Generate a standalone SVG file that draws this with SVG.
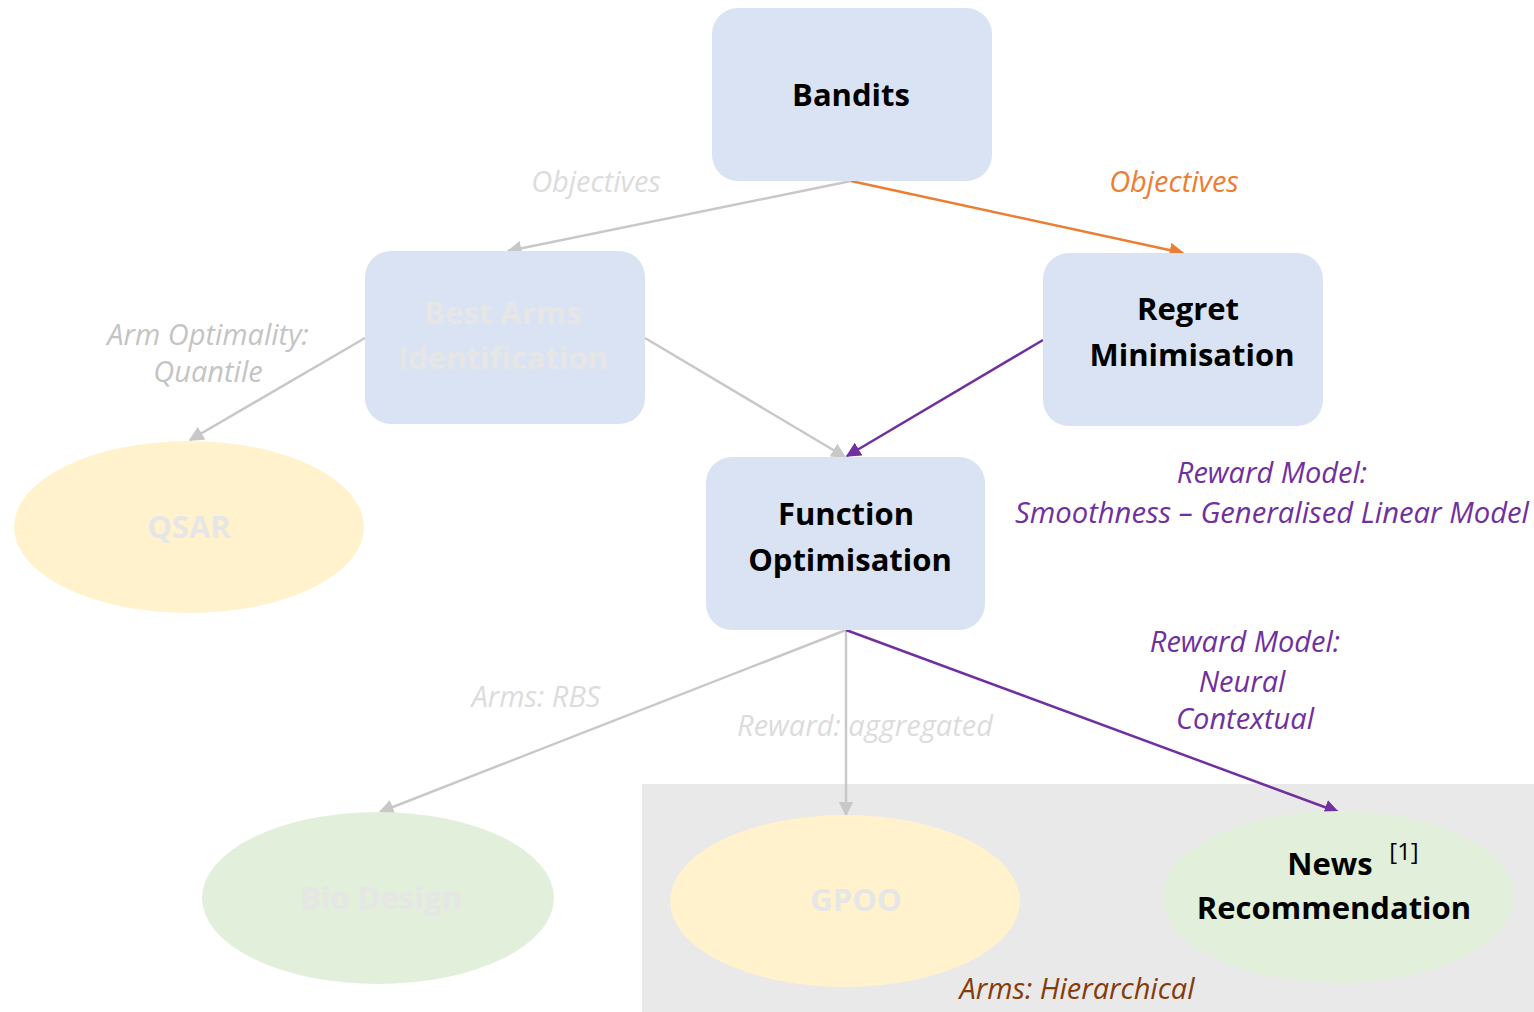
<svg xmlns="http://www.w3.org/2000/svg" width="1534" height="1012" viewBox="0 0 1534 1012">
<defs>
<style>
.box{fill:#dae3f3}
.yel{fill:#fff2cc}
.grn{fill:#e2efda}
.t{font-family:"Open Sans","Liberation Sans",sans-serif;text-anchor:middle}
.nb{font-size:31px;font-weight:bold;fill:#000}
.nf{font-size:31px;font-weight:bold;fill:#e6e6e6}
.lb{font-size:29px;font-style:italic}
.e{fill:none;stroke-width:2.5}
</style>
<marker id="ag" viewBox="0 0 10 10" refX="9" refY="5" markerWidth="6" markerHeight="6" markerUnits="strokeWidth" orient="auto"><path d="M0,0 L10,5 L0,10 z" fill="#c8c8c8"/></marker>
<marker id="ao" viewBox="0 0 10 10" refX="9" refY="5" markerWidth="6" markerHeight="6" markerUnits="strokeWidth" orient="auto"><path d="M0,0 L10,5 L0,10 z" fill="#ed7d31"/></marker>
<marker id="ap" viewBox="0 0 10 10" refX="9" refY="5" markerWidth="6" markerHeight="6" markerUnits="strokeWidth" orient="auto"><path d="M0,0 L10,5 L0,10 z" fill="#7030a0"/></marker>
</defs>
<rect x="0" y="0" width="1534" height="1012" fill="#fff"/>
<rect x="642" y="784" width="892" height="228" fill="#e9e9e9"/>

<g id="connectors">
<line class="e" x1="851" y1="181" x2="508" y2="251" stroke="#c8c8c8" marker-end="url(#ag)"/>
<line class="e" x1="851" y1="181" x2="1183" y2="253" stroke="#ed7d31" marker-end="url(#ao)"/>
<line class="e" x1="365" y1="338" x2="190" y2="440" stroke="#c8c8c8" marker-end="url(#ag)"/>
<line class="e" x1="645" y1="338" x2="845" y2="457" stroke="#c8c8c8" marker-end="url(#ag)"/>
<line class="e" x1="1043" y1="340" x2="847" y2="456" stroke="#7030a0" marker-end="url(#ap)"/>
<line class="e" x1="846" y1="630" x2="380" y2="812" stroke="#c8c8c8" marker-end="url(#ag)"/>
<line class="e" x1="846" y1="630" x2="846" y2="815" stroke="#c8c8c8" marker-end="url(#ag)"/>
<line class="e" x1="846" y1="630" x2="1338" y2="812" stroke="#7030a0" marker-end="url(#ap)"/>
<text class="t lb" x="596" y="192" fill="#dcdcdc">Objectives</text>
<text class="t lb" x="1174" y="192" fill="#ed7d31">Objectives</text>
<text class="t lb" x="208" y="345" fill="#c4c4c4">Arm Optimality:</text>
<text class="t lb" x="208" y="382" fill="#c4c4c4">Quantile</text>
<text class="t lb" x="1272" y="483" fill="#7030a0">Reward Model:</text>
<text class="t lb" x="1272" y="523" fill="#7030a0" textLength="514" lengthAdjust="spacingAndGlyphs">Smoothness – Generalised Linear Model</text>
<text class="t lb" x="1245" y="652" fill="#7030a0">Reward Model:</text>
<text class="t lb" x="1242" y="692" fill="#7030a0">Neural</text>
<text class="t lb" x="1245" y="729" fill="#7030a0">Contextual</text>
<text class="t lb" x="536" y="707" fill="#dcdcdc">Arms: RBS</text>
<text class="t lb" x="865" y="736" fill="#dcdcdc">Reward: aggregated</text>
<text class="t lb" x="1077" y="999" fill="#843c0c">Arms: Hierarchical</text>
</g>

<g id="bandits">
<rect class="box" x="712" y="8" width="280" height="173" rx="26"/>
<text class="t nb" x="851" y="106">Bandits</text>
</g>
<g id="best-arms">
<rect class="box" x="365" y="251" width="280" height="173" rx="26"/>
<text class="t nf" x="503" y="324">Best Arms</text>
<text class="t nf" x="503" y="369">Identification</text>
</g>
<g id="regret">
<rect class="box" x="1043" y="253" width="280" height="173" rx="26"/>
<text class="t nb" x="1188" y="320">Regret</text>
<text class="t nb" x="1192" y="366">Minimisation</text>
</g>
<g id="function-opt">
<rect class="box" x="706" y="457" width="279" height="173" rx="26"/>
<text class="t nb" x="846" y="525">Function</text>
<text class="t nb" x="850" y="571">Optimisation</text>
</g>
<g id="qsar">
<ellipse class="yel" cx="189" cy="527" rx="175" ry="86"/>
<text class="t nf" x="189" y="538">QSAR</text>
</g>
<g id="bio-design">
<ellipse class="grn" cx="378" cy="898" rx="176" ry="86"/>
<text class="t nf" x="381" y="909">Bio Design</text>
</g>
<g id="gpoo">
<ellipse class="yel" cx="845" cy="901" rx="175" ry="86"/>
<text class="t nf" x="856" y="911">GPOO</text>
</g>
<g id="news">
<ellipse class="grn" cx="1338" cy="897" rx="176" ry="86"/>
<text class="t nb" x="1330" y="875">News</text>
<text class="t" x="1404" y="860" font-size="24" fill="#000">[1]</text>
<text class="t nb" x="1334" y="919">Recommendation</text>
</g>
</svg>
